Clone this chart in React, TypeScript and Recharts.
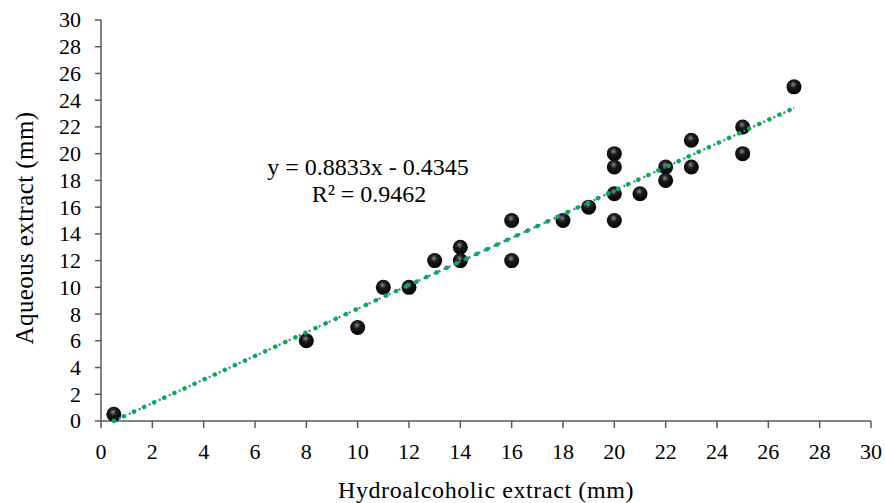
import React from "react";
import { ScatterChart, Scatter, XAxis, YAxis, Label } from "recharts";

// hydroalcoholic vs aqueous inhibition zones (mm)
const hydroalcoholic = [0.5, 8, 10, 11, 12, 13, 14, 14, 16, 16, 18, 19, 20, 20, 20, 20, 21, 22, 22, 23, 23, 25, 25, 27];
const aqueous = [0.5, 6, 7, 10, 10, 12, 13, 12, 15, 12, 15, 16, 20, 19, 17, 15, 17, 19, 18, 21, 19, 22, 20, 25];
const axisTicks = [0, 2, 4, 6, 8, 10, 12, 14, 16, 18, 20, 22, 24, 26, 28, 30];

const slope = 0.8833;
const intercept = -0.4345;
const rSquared = 0.9462;

const points = hydroalcoholic.map((x, i) => ({ x, y: aqueous[i] }));
const xMin = Math.min(...hydroalcoholic);
const xMax = Math.max(...hydroalcoholic);
const trend = [xMin, xMax].map((x) => ({ x, y: slope * x + intercept }));

const axisColor = "#595959";
const font = "Liberation Serif";

const Sphere = (props: any) => {
  const { cx, cy } = props;
  if (cx == null || cy == null) return <g />;
  return <circle cx={cx} cy={cy} r={7.5} fill="url(#sphere)" />;
};

const Empty = () => <g />;

const XTick = (p: any) => (
  <text x={p.x} y={p.y} dy="0.71em" textAnchor="middle" fill="#000" fontSize={22} fontFamily={font}>
    {p.payload.value}
  </text>
);

const YTick = (p: any) => (
  <text x={p.x} y={p.y} dy="0.34em" textAnchor="end" fill="#000" fontSize={22} fontFamily={font}>
    {p.payload.value}
  </text>
);

const App = () => {
  return (
    <div style={{ position: "absolute", left: 0, top: 0, width: 885, height: 503, background: "#fff", fontFamily: font }}>
      <ScatterChart width={885} height={503} margin={{ top: 20, right: 14, left: 0, bottom: 0 }} style={{ fontFamily: font }}>
        <defs>
          <radialGradient id="sphere" cx="0.45" cy="0.35" r="0.65">
            <stop offset="0%" stopColor="#8a8a8a" />
            <stop offset="35%" stopColor="#1c1c1c" />
            <stop offset="100%" stopColor="#000" />
          </radialGradient>
        </defs>
        <XAxis
          type="number"
          dataKey="x"
          domain={[0, 30]}
          ticks={axisTicks}
          interval={0}
          height={82}
          stroke={axisColor}
          strokeWidth={1.5}
          tickSize={7}
          tickMargin={15}
          tick={XTick}
        >
          <Label
            content={() => (
              <text x={486} y={498} textAnchor="middle" fill="#000" fontSize={24} fontFamily={font} letterSpacing={0.6}>
                Hydroalcoholic extract (mm)
              </text>
            )}
          />
        </XAxis>
        <YAxis
          type="number"
          dataKey="y"
          domain={[0, 30]}
          ticks={axisTicks}
          interval={0}
          width={101}
          stroke={axisColor}
          strokeWidth={1.5}
          tickSize={6}
          tickMargin={14}
          tick={YTick}
        >
          <Label
            content={() => (
              <text x={33} y={228} transform="rotate(-90 33 228)" textAnchor="middle" fill="#000" fontSize={25} fontFamily={font} letterSpacing={0.4}>
                Aqueous extract (mm)
              </text>
            )}
          />
        </YAxis>
        <Scatter data={points} shape={Sphere} isAnimationActive={false} />
        <Scatter
          data={trend}
          shape={Empty}
          line={{ stroke: "#4472C4", strokeWidth: 2.2, strokeDasharray: "2 3.5" }}
          isAnimationActive={false}
        />
        <Scatter
          data={trend}
          shape={Empty}
          line={{ stroke: "#00B050", strokeWidth: 4.5, strokeDasharray: "0.1 11", strokeLinecap: "round" }}
          isAnimationActive={false}
        />
      </ScatterChart>
      <svg width={885} height={503} style={{ position: "absolute", left: 0, top: 0, pointerEvents: "none" }}>
        <text x={368} y={175} textAnchor="middle" fill="#000" fontSize={24} fontFamily={font}>
          {`y = ${slope}x - ${Math.abs(intercept)}`}
        </text>
        <text x={369} y={202} textAnchor="middle" fill="#000" fontSize={24} fontFamily={font}>
          {`R² = ${rSquared}`}
        </text>
      </svg>
    </div>
  );
};

export default App;
